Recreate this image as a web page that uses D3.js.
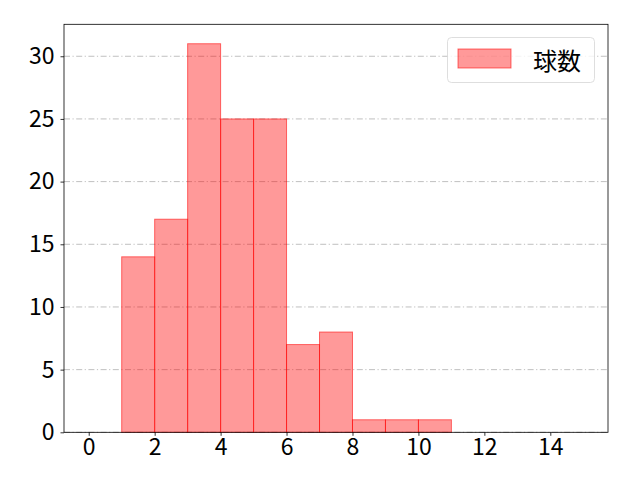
<!DOCTYPE html>
<html>
<head>
<meta charset="utf-8">
<script src="https://cdn.jsdelivr.net/npm/d3@7"></script>
<style>
  body { margin: 0; background: #fff; }
  text { font-family: "Noto Sans CJK JP", "DejaVu Sans", sans-serif; }
</style>
</head>
<body>
<script>
const width = 640;
const height = 480;

// histogram bins (left edges, width 1) and counts
const binStarts = [0, 1, 2, 3, 4, 5, 6, 7, 8, 9, 10, 11, 12, 13, 14];
const counts = [0, 14, 17, 31, 25, 25, 7, 8, 1, 1, 1, 0, 0, 0, 0];
const xTicks = [0, 2, 4, 6, 8, 10, 12, 14];
const yTicks = [0, 5, 10, 15, 20, 25, 30];
const seriesName = "球数";

const margin = {left: 64, right: 32, top: 24.3, bottom: 47.7};

const svg = d3.select("body").append("svg")
    .attr("width", width)
    .attr("height", height);

const x = d3.scaleLinear()
    .domain([-0.75, 15.75])
    .range([margin.left, width - margin.right]);

const y = d3.scaleLinear()
    .domain([0, 31 * 1.05])
    .range([height - margin.bottom, margin.top]);

// grid
svg.append("g")
    .selectAll("line")
    .data(yTicks)
    .join("line")
    .attr("x1", margin.left)
    .attr("x2", width - margin.right)
    .attr("y1", d => y(d))
    .attr("y2", d => y(d))
    .attr("stroke", "#b0b0b0")
    .attr("stroke-width", 0.8)
    .attr("stroke-dasharray", "6,2.5,1.2,2.5");

// bars
svg.append("g")
    .selectAll("rect")
    .data(binStarts)
    .join("rect")
    .attr("x", d => x(d))
    .attr("width", d => x(d + 1) - x(d))
    .attr("y", (d, i) => y(counts[i]))
    .attr("height", (d, i) => y(0) - y(counts[i]))
    .attr("fill", "rgba(255,0,0,0.4)")
    .attr("stroke", "rgba(255,0,0,0.55)")
    .attr("stroke-width", 1);

// axes
const xAxis = svg.append("g")
    .attr("transform", `translate(0,${height - margin.bottom})`)
    .call(d3.axisBottom(x).tickValues(xTicks).tickSize(3.5).tickPadding(3).tickFormat(d3.format("d")));

const yAxis = svg.append("g")
    .attr("transform", `translate(${margin.left},0)`)
    .call(d3.axisLeft(y).tickValues(yTicks).tickSize(3.5).tickPadding(6).tickFormat(d3.format("d")));

[xAxis, yAxis].forEach(g => {
    g.select(".domain").remove();
    g.selectAll(".tick line").attr("stroke", "#000").attr("stroke-width", 0.8);
    g.selectAll(".tick text")
        .attr("fill", "#000")
        .attr("font-size", "23px")
        .attr("font-family", "Noto Sans CJK JP, sans-serif");
});

// frame
svg.append("rect")
    .attr("x", margin.left)
    .attr("y", margin.top)
    .attr("width", width - margin.right - margin.left)
    .attr("height", height - margin.bottom - margin.top)
    .attr("fill", "none")
    .attr("stroke", "#000")
    .attr("stroke-width", 0.8);

// legend
const legend = svg.append("g");
legend.append("rect")
    .attr("x", 447.5)
    .attr("y", 37.5)
    .attr("width", 147)
    .attr("height", 45)
    .attr("rx", 4)
    .attr("fill", "rgba(255,255,255,0.8)")
    .attr("stroke", "#d5d5d5")
    .attr("stroke-width", 0.8);
legend.append("rect")
    .attr("x", 458)
    .attr("y", 49)
    .attr("width", 53)
    .attr("height", 19)
    .attr("fill", "rgba(255,0,0,0.4)")
    .attr("stroke", "rgba(255,0,0,0.55)");
legend.append("text")
    .attr("x", 533)
    .attr("y", 59)
    .attr("dominant-baseline", "central")
    .attr("font-size", "24px")
    .attr("fill", "#000")
    .text(seriesName);
</script>
</body>
</html>
